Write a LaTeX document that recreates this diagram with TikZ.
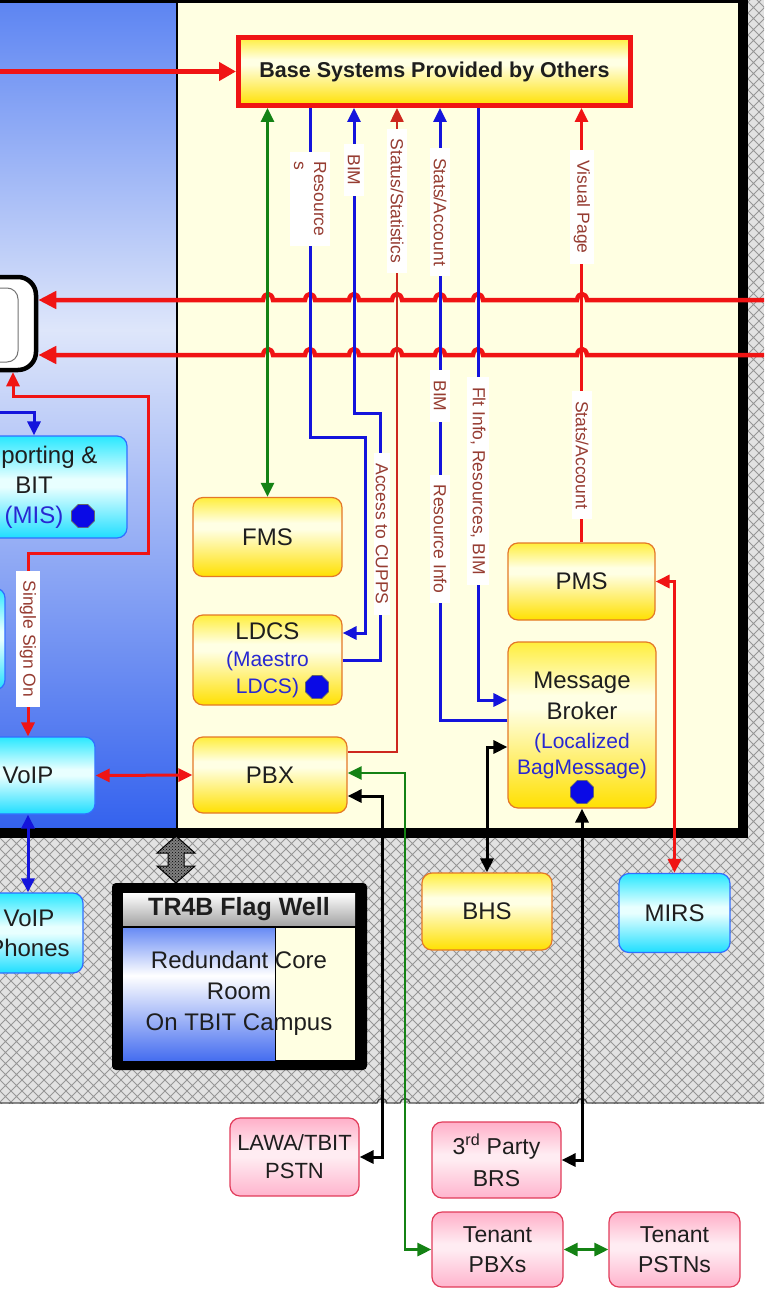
\documentclass[tikz,border=0pt]{standalone}
\usepackage{fontspec}
\setmainfont{Liberation Sans}
\usetikzlibrary{arrows.meta,shapes.geometric,patterns}
\definecolor{cream}{RGB}{255,255,226}
\definecolor{bTop}{RGB}{92,132,242}
\definecolor{bMid}{RGB}{222,230,250}
\definecolor{bBot}{RGB}{52,98,238}
\definecolor{yTop}{RGB}{255,238,60}
\definecolor{yMid}{RGB}{255,255,228}
\definecolor{yBot}{RGB}{255,224,0}
\definecolor{yBorder}{RGB}{228,120,40}
\definecolor{cTop}{RGB}{40,232,255}
\definecolor{cMid}{RGB}{232,255,255}
\definecolor{cBot}{RGB}{30,222,255}
\definecolor{cBorder}{RGB}{50,110,255}
\definecolor{pTop}{RGB}{255,175,200}
\definecolor{pMid}{RGB}{255,236,242}
\definecolor{pBot}{RGB}{255,180,205}
\definecolor{pBorder}{RGB}{225,60,90}
\definecolor{redc}{RGB}{240,20,20}
\definecolor{dredc}{RGB}{205,40,30}
\definecolor{bluec}{RGB}{20,20,220}
\definecolor{greenc}{RGB}{20,130,20}
\definecolor{lblc}{RGB}{150,60,50}
\definecolor{tblue}{RGB}{40,40,210}
\definecolor{txt}{RGB}{30,30,30}
\definecolor{octc}{RGB}{10,10,230}
\definecolor{hatchbg}{RGB}{226,226,226}
\definecolor{hatchln}{RGB}{150,150,150}
\definecolor{tbTop}{RGB}{105,140,245}
\definecolor{tbBot}{RGB}{70,110,240}
\definecolor{hdrBot}{RGB}{165,165,165}
\pgfdeclareverticalshading{yelsh}{100bp}{color(0bp)=(yBot); color(25bp)=(yBot); color(55bp)=(yMid); color(59bp)=(yMid); color(75bp)=(yTop); color(100bp)=(yTop)}
\pgfdeclareverticalshading{cyansh}{100bp}{color(0bp)=(cBot); color(25bp)=(cBot); color(50bp)=(cMid); color(54bp)=(cMid); color(75bp)=(cTop); color(100bp)=(cTop)}
\pgfdeclareverticalshading{pinksh}{100bp}{color(0bp)=(pBot); color(25bp)=(pBot); color(50bp)=(pMid); color(54bp)=(pMid); color(75bp)=(pTop); color(100bp)=(pTop)}
\pgfdeclareverticalshading{trsh}{100bp}{color(0bp)=(tbBot); color(25bp)=(tbBot); color(57bp)=(white); color(75bp)=(tbTop); color(100bp)=(tbTop)}
\pgfdeclarepatternformonly{diamondhatch}{\pgfqpoint{-1pt}{-1pt}}{\pgfqpoint{12pt}{12pt}}{\pgfqpoint{11pt}{11pt}}{%
  \pgfsetlinewidth{0.9pt}%
  \pgfpathmoveto{\pgfqpoint{0pt}{0pt}}\pgfpathlineto{\pgfqpoint{11pt}{11pt}}%
  \pgfpathmoveto{\pgfqpoint{0pt}{11pt}}\pgfpathlineto{\pgfqpoint{11pt}{0pt}}%
  \pgfusepath{stroke}}
\newcommand\bluetxt[1]{{\color{tblue}\fontsize{21}{26}\selectfont #1}}
\newcommand\hopR[2]{-- ({#1+5},#2) .. controls ({#1+4},{#2-8}) and ({#1-4},{#2-8}) .. ({#1-5},#2)}
\newcommand\hopS[2]{-- ({#1+5},#2) .. controls ({#1+4},{#2-6}) and ({#1-4},{#2-6}) .. ({#1-5},#2)}
\tikzset{
 ybox/.style={draw=yBorder, line width=1.2pt, rounded corners=10pt, shading=yelsh, inner sep=0pt, align=center, font=\fontsize{24}{30}\selectfont, text=txt},
 cbox/.style={ybox, draw=cBorder, shading=cyansh},
 pbox/.style={ybox, draw=pBorder, shading=pinksh, font=\fontsize{23}{30}\selectfont},
 lbl/.style={fill=white, text=lblc, font=\fontsize{17.5}{20}\selectfont, rotate=-90, align=left, inner xsep=10pt, inner ysep=4pt},
 octa/.style={regular polygon, regular polygon sides=8, minimum size=25pt, inner sep=0pt, fill=octc, draw=black!60, line width=0.6pt},
 rl/.style={draw=redc, line width=4.5pt},
 rl2/.style={draw=redc, line width=3pt},
 bl/.style={draw=bluec, line width=3pt},
 gl/.style={draw=greenc, line width=2.8pt},
 kl/.style={draw=black, line width=3pt},
}
\begin{document}
\begin{tikzpicture}[x=1pt,y=-1pt,>={Triangle[length=14pt,width=13pt]}]
\useasboundingbox (0,0) rectangle (764,1289);
\begin{scope}
\clip (0,0) rectangle (764,1289);
% hatched background
\fill[hatchbg] (0,0) rectangle (764,1103);
\fill[pattern=diamondhatch, pattern color=hatchln] (0,0) rectangle (764,1103);
\draw[black!70, line width=1.4pt] (766,1103) \hopS{582}{1103}\hopS{405}{1103}\hopS{382}{1103} -- (-2,1103);
% main panel
\shade[top color=bTop, bottom color=bMid] (0,0) rectangle (177,330);
\shade[top color=bMid, bottom color=bBot] (0,330) rectangle (177,828);
\fill[cream] (177,0) rectangle (743,828);
\draw[black, line width=1.4pt] (177,0) -- (177,828);
\draw[black, line width=10pt] (-20,-2) rectangle (743,832.5);
% hatched double arrow
\filldraw[fill=black!50, draw=black, line width=1pt] (176,836) -- (195,853) -- (184,853) -- (184,866) -- (195,866) -- (176,883) -- (157,866) -- (168,866) -- (168,853) -- (157,853) -- cycle;
\fill[pattern=crosshatch dots, pattern color=black] (176,836) -- (195,853) -- (184,853) -- (184,866) -- (195,866) -- (176,883) -- (157,866) -- (168,866) -- (168,853) -- (157,853) -- cycle;
% TR4B Flag Well
\node[fill=black, rounded corners=4pt, minimum width=255pt, minimum height=187pt, inner sep=0pt] (tr) at (239.5,976.5) {};
\shade[top color=white, bottom color=hdrBot] (123,893) rectangle (355,925);
\shade[shading=trsh] (123,928) rectangle (275,1060);
\fill[cream] (275,928) rectangle (355,1060);
\draw[black, line width=1pt] (275,928) -- (275,1060);
\node[font=\bfseries\fontsize{25}{30}\selectfont, text=txt] (trh) at (239,909) {TR4B Flag Well};
\node[align=center, font=\fontsize{24}{31}\selectfont, text=txt] (trb) at (239,993) {Redundant Core\\Room\\On TBIT Campus};
% nodes
\node[draw=redc, line width=5pt, shading=yelsh, minimum width=392pt, minimum height=68pt, inner sep=0pt, font=\bfseries\fontsize{21.5}{26}\selectfont, text=txt] (base) at (434.5,71.5) {Base Systems Provided by Others};
\node[draw=black, line width=4.5pt, rounded corners=18pt, fill=white, minimum width=92pt, minimum height=93pt] (rbox) at (-10,323.5) {};
\draw[black!55, line width=1pt, rounded corners=11pt] (-40,288) rectangle (18,362);
\node[cbox, minimum width=186pt, minimum height=102pt] (rep) at (34,487) {Reporting \&\\BIT\\{\color{tblue}(MIS)}};
\node[cbox, minimum width=110pt, minimum height=102pt] (side) at (-50,639) {};
\node[cbox, minimum width=134pt, minimum height=77pt] (voip) at (28,775.5) {VoIP};
\node[cbox, minimum width=108pt, minimum height=80pt] (phones) at (29,933) {VoIP\\Phones};
\node[ybox, minimum width=149pt, minimum height=79pt] (fms) at (267.5,537) {FMS};
\node[ybox, minimum width=149pt, minimum height=90pt, font=\fontsize{24}{27}\selectfont] (ldcs) at (267.5,660) {LDCS\\\bluetxt{(Maestro}\\\bluetxt{LDCS)}};
\node[ybox, minimum width=154pt, minimum height=76pt] (pbx) at (270,775) {PBX};
\node[ybox, minimum width=147pt, minimum height=77pt] (pms) at (581.5,581.5) {PMS};
\node[ybox, minimum width=148pt, minimum height=166pt] (mb) at (582,725) {Message\\[1pt]Broker\\[-1pt]\bluetxt{(Localized}\\[-4pt]\bluetxt{BagMessage)}};
\node[ybox, minimum width=130pt, minimum height=77pt] (bhs) at (487,911.5) {BHS};
\node[cbox, minimum width=111pt, minimum height=79pt] (mirs) at (674.5,913) {MIRS};
\node[pbox, minimum width=129pt, minimum height=78pt, font=\fontsize{22}{28}\selectfont] (lawa) at (294.5,1157) {LAWA/TBIT\\PSTN};
\node[pbox, minimum width=129pt, minimum height=76pt, font=\fontsize{23}{32}\selectfont] (brs) at (496.5,1160) {3\textsuperscript{rd} Party\\BRS};
\node[pbox, minimum width=131pt, minimum height=75pt] (tpbx) at (497.5,1249.5) {Tenant\\PBXs};
\node[pbox, minimum width=131pt, minimum height=75pt] (tpstn) at (674.5,1249.5) {Tenant\\PSTNs};
% connectors
\coordinate (basein) at (-5,71.5);
\coordinate (rin1) at (770,300);
\coordinate (rin2) at (770,355);
\coordinate (repin) at (-5,412);
\draw[rl, -{Triangle[length=17pt,width=18pt]}] (basein) -- (base.west);
\draw[rl, -{Triangle[length=18pt,width=17pt]}] (rin1) \hopR{582}{300}\hopR{478}{300}\hopR{440}{300}\hopR{397}{300}\hopR{354}{300}\hopR{310}{300}\hopR{268}{300} -- (rbox.east |- rin1);
\draw[rl, -{Triangle[length=18pt,width=17pt]}] (rin2) \hopR{582}{355}\hopR{478}{355}\hopR{440}{355}\hopR{397}{355}\hopR{354}{355}\hopR{310}{355}\hopR{268}{355} -- (rbox.east |- rin2);
\draw[gl, <->] (base.south -| fms.north) -- (fms.north);
\draw[bl, ->] (base.south -| 310,0) -- (310,437) -- (365,437) -- (365,633) -- (ldcs.east |- 0,633);
\draw[bl, ->] (ldcs.east |- 0,660) -- (380,660) -- (380,413) -- (354,413) -- (base.south -| 354,0);
\draw[draw=dredc, line width=2.5pt, ->] (pbx.east |- 0,752) -- (397,752) -- (base.south -| 397,0);
\draw[bl, ->] (mb.west |- 0,720) -- (440,720) -- (base.south -| 440,0);
\draw[bl, ->] (base.south -| 478,0) -- (478,700) -- (mb.west |- 0,700);
\draw[rl2, ->] (pms.north) -- (base.south -| pms.north);
\draw[rl2, <->] (pms.east) -| (mirs.north);
\draw[kl, <->] (mb.west |- 0,747) -| (bhs.north);
\draw[kl, <->] (mb.south) |- (brs.east);
\draw[kl, <->] (pbx.east |- 0,796) -- (382,796) |- (lawa.east);
\draw[gl, <->] (pbx.east |- 0,773) -- (405,773) |- (tpbx.west);
\draw[gl, <->] (tpbx.east) -- (tpstn.west);
\draw[rl2, <->] (voip.east) -- (pbx.west);
\draw[bl, <->] (voip.south) -- (voip.south |- phones.north);
\draw[bl, ->] (repin) -| (rep.north);
\draw[rl2, <->] (rbox.south -| 13,0) -- (13,396) -- (148,396) -- (148,553) -- (28,553) -- (voip.north);
% labels
\node[lbl] (l1) at (310,199) {Resource\\s};
\node[lbl] (l2) at (354,170) {BIM};
\node[lbl] (l3) at (397,201) {Status/Statistics};
\node[lbl] (l4) at (440,212) {Stats/Account};
\node[lbl] (l5) at (582,207) {Visual Page};
\node[lbl] (l6) at (582,455) {Stats/Account};
\node[lbl] (l7) at (440,396) {BIM};
\node[lbl] (l8) at (440,539) {Resource Info};
\node[lbl] (l9) at (478,481) {Flt Info, Resources, BIM};
\node[lbl, inner ysep=2pt] (l10) at (382,534) {Access to CUPPS};
\node[lbl] (l11) at (28,639) {Single Sign On};
% octagons
\node[octa] (o1) at (83,516) {};
\node[octa] (o2) at (317,687) {};
\node[octa] (o3) at (582,792) {};
\end{scope}
\end{tikzpicture}
\end{document}
